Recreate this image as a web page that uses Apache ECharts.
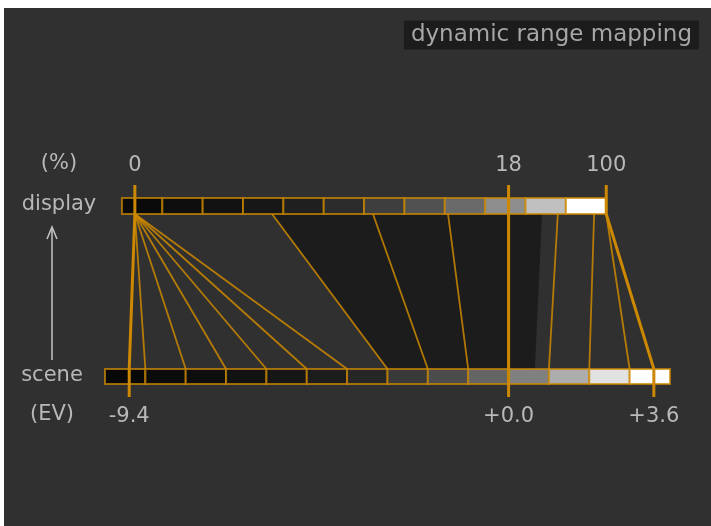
<!DOCTYPE html>
<html>
<head>
<meta charset="UTF-8">
<title>dynamic range mapping</title>
<script src="https://cdn.jsdelivr.net/npm/echarts@6/dist/echarts.min.js"></script>
<style>
  body { margin: 0; background: #ffffff; }
  #main { position: absolute; left: 4px; top: 8px; width: 707px; height: 518px; }
</style>
</head>
<body>
<div id="main"></div>
<script>
// shared EV axis: the 18% display grey sits on 0 EV of the scene
var sceneStart = -10;   // scene bar, 1 EV per cell
var sceneGrey = ['#080808', '#0b0b0b', '#0e0e0e', '#121212', '#161616', '#1c1c1c', '#262626',
                 '#393939', '#4c4c4c', '#646464', '#808080', '#adadad', '#e2e2e2', '#ffffff'];
var displayStart = -9.58; // display bar, 12 cells
var displayGrey = ['#0a0a0a', '#0e0e0e', '#121212', '#171717', '#1f1f1f', '#2c2c2c',
                   '#3e3e3e', '#515151', '#6a6a6a', '#8d8d8d', '#c0c0c0', '#ffffff'];

var displayMarks = [-9.26, 0, 2.42];
var displayLabels = ['0', '18', '100'];
var sceneMarks = [-9.4, 0, 3.6];
var sceneLabels = ['-9.4', '+0.0', '+3.6'];

// where each scene EV step lands on the display bar
var mapScene   = [-9, -8, -7, -6, -5, -4, -3, -2, -1, 1, 2, 3];
var mapDisplay = [-9.26, -9.26, -9.26, -9.26, -9.26, -9.26, -5.86, -3.36, -1.5, 1.22, 2.12, 2.42];

var latitudeDisplay = [-5.86, 0.83];
var latitudeScene = [-3, 0.65];

var orange = '#cc8800';
var textGrey = '#b8b8b8';
var font = 'DejaVu Sans';

var cells = [];
displayGrey.forEach(function (g, i) {
  cells.push({ value: [displayStart + i, displayStart + i + 1, 1], grey: g, row: 1 });
});
sceneGrey.forEach(function (g, i) {
  cells.push({ value: [sceneStart + i, sceneStart + i + 1, 0], grey: g, row: 0 });
});

var mapLines = mapScene.map(function (s, i) {
  return { coords: [[mapDisplay[i], 1], [s, 0]] };
});

var chart = echarts.init(document.getElementById('main'));

var option = {
  backgroundColor: '#303030',
  animation: false,
  title: {
    text: 'dynamic range mapping',
    right: 12,
    top: 13,
    padding: [3, 7],
    backgroundColor: '#1c1c1c',
    textStyle: { color: '#a6a6a6', fontFamily: font, fontSize: 23, fontWeight: 'normal', lineHeight: 22 }
  },
  grid: { left: 101, right: 41, top: 206, bottom: 157 },
  xAxis: { type: 'value', min: sceneStart, max: sceneStart + sceneGrey.length, show: false },
  yAxis: { type: 'value', min: 0, max: 1, show: false },
  graphic: [
    { type: 'text', x: 55, y: 156, style: { text: '(%)', fill: textGrey, font: '21px ' + font, align: 'center', verticalAlign: 'middle' } },
    { type: 'text', x: 55, y: 197, style: { text: 'display', fill: textGrey, font: '21px ' + font, align: 'center', verticalAlign: 'middle' } },
    { type: 'text', x: 48, y: 367.5, style: { text: 'scene', fill: textGrey, font: '21px ' + font, align: 'center', verticalAlign: 'middle' } },
    { type: 'text', x: 48, y: 406.5, style: { text: '(EV)', fill: textGrey, font: '21px ' + font, align: 'center', verticalAlign: 'middle' } },
    { type: 'line', shape: { x1: 48, y1: 352, x2: 48, y2: 220 }, style: { stroke: '#c4c4c4', lineWidth: 1.5 } },
    { type: 'polyline', shape: { points: [[43, 231], [48, 219], [53, 231]] }, style: { stroke: '#c4c4c4', lineWidth: 1.5, fill: null } }
  ],
  series: [
    {
      type: 'custom',
      name: 'latitude',
      clip: false,
      z: 1,
      data: [[latitudeDisplay[0], latitudeDisplay[1], 1]],
      encode: { x: [0, 1], y: 2 },
      renderItem: function (params, api) {
        var a = api.coord([latitudeDisplay[0], 1]);
        var b = api.coord([latitudeDisplay[1], 1]);
        var c = api.coord([latitudeScene[1], 0]);
        var d = api.coord([latitudeScene[0], 0]);
        return { type: 'polygon', shape: { points: [a, b, c, d] }, style: { fill: '#1c1c1c' } };
      }
    },
    {
      type: 'lines',
      name: 'mapping',
      coordinateSystem: 'cartesian2d',
      z: 2,
      lineStyle: { color: orange, width: 1.8, opacity: 0.85 },
      data: mapLines
    },
    {
      type: 'custom',
      name: 'bars',
      clip: false,
      z: 3,
      data: cells,
      encode: { x: [0, 1], y: 2 },
      renderItem: function (params, api) {
        var c = cells[params.dataIndex];
        var p0 = api.coord([c.value[0], c.row]);
        var p1 = api.coord([c.value[1], c.row]);
        var h = c.row === 1 ? 16 : 15;
        var y = c.row === 1 ? p0[1] - h : p0[1];
        return {
          type: 'rect',
          shape: { x: p0[0], y: y, width: p1[0] - p0[0], height: h },
          style: { fill: c.grey, stroke: 'rgba(204,136,0,0.75)', lineWidth: 2 }
        };
      }
    },
    {
      type: 'custom',
      name: 'markers',
      clip: false,
      z: 4,
      data: displayMarks.map(function (d, i) { return [d, sceneMarks[i], 0]; }),
      encode: { x: [0, 1], y: 2 },
      renderItem: function (params, api) {
        var i = params.dataIndex;
        var top = api.coord([displayMarks[i], 1]);
        var bot = api.coord([sceneMarks[i], 0]);
        return {
          type: 'group',
          children: [
            {
              type: 'polyline',
              shape: { points: [[top[0], top[1] - 29], top, bot, [bot[0], bot[1] + 28]] },
              style: { stroke: orange, lineWidth: 3, fill: null }
            },
            {
              type: 'text',
              x: top[0], y: top[1] - 48,
              style: { text: displayLabels[i], fill: textGrey, font: '21px ' + font, align: 'center', verticalAlign: 'middle' }
            },
            {
              type: 'text',
              x: bot[0], y: bot[1] + 48,
              style: { text: sceneLabels[i], fill: textGrey, font: '21px ' + font, align: 'center', verticalAlign: 'middle' }
            }
          ]
        };
      }
    }
  ]
};

chart.setOption(option);
</script>
</body>
</html>
